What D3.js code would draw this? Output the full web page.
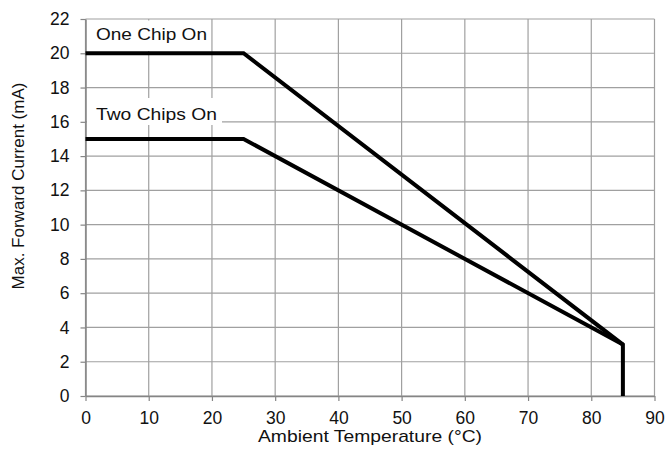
<!DOCTYPE html>
<html>
<head>
<meta charset="utf-8">
<script src="https://cdn.jsdelivr.net/npm/d3@7"></script>
<style>
	body { margin: 0; background: #fff; }
	text { font-family: "Liberation Sans", Arial, sans-serif; fill: #111; }
</style>
</head>
<body>
<div id="chart"></div>
<script>
var xTicks = [0, 10, 20, 30, 40, 50, 60, 70, 80, 90];
var yTicks = [0, 2, 4, 6, 8, 10, 12, 14, 16, 18, 20, 22];

var oneChipTemp = [0, 25, 85, 85];
var oneChipCurrent = [20, 20, 3, 0];
var twoChipTemp = [0, 25, 85];
var twoChipCurrent = [15, 15, 3];

var labels = ["One Chip On", "Two Chips On"];
var xTitle = "Ambient Temperature (\u00B0C)";
var yTitle = "Max. Forward Current (mA)";

var width = 667, height = 449;

var x = d3.scaleLinear().domain([0, 90]).range([85.5, 654.5]);
var y = d3.scaleLinear().domain([0, 22]).range([396, 19]);

var svg = d3.select("#chart").append("svg")
	.attr("width", width)
	.attr("height", height);

// grid
svg.append("g").selectAll("line").data(xTicks).enter()
	.append("line")
	.attr("x1", function(d){ return x(d); })
	.attr("x2", function(d){ return x(d); })
	.attr("y1", y(22))
	.attr("y2", y(0))
	.attr("stroke", "#a0a0a0")
	.attr("stroke-width", 1.2);
svg.append("g").selectAll("line").data(yTicks).enter()
	.append("line")
	.attr("x1", x(0))
	.attr("x2", x(90))
	.attr("y1", function(d){ return y(d); })
	.attr("y2", function(d){ return y(d); })
	.attr("stroke", "#a0a0a0")
	.attr("stroke-width", 1.2);

// axes
var xAxis = svg.append("g")
	.attr("transform", "translate(0," + y(0) + ")")
	.call(d3.axisBottom(x).tickValues(xTicks).tickSize(5).tickPadding(11).tickSizeOuter(0));
var yAxis = svg.append("g")
	.attr("transform", "translate(" + x(0) + ",0)")
	.call(d3.axisLeft(y).tickValues(yTicks).tickSize(5).tickPadding(11).tickSizeOuter(0));

[xAxis, yAxis].forEach(function(a){
	a.select(".domain").attr("stroke", "#858585").attr("stroke-width", 1.5);
	a.selectAll(".tick line").attr("stroke", "#858585").attr("stroke-width", 1.2);
	a.selectAll(".tick text")
		.style("font-family", "'Liberation Sans', Arial, sans-serif")
		.style("font-size", "17.5px")
		.attr("fill", "#111");
});

// label boxes
var boxes = [
	{x0: 87, x1: 211, y0: 20.5, y1: 51},
	{x0: 87, x1: 222, y0: 98, y1: 125}
];
svg.append("g").selectAll("rect").data(boxes).enter()
	.append("rect")
	.attr("x", function(d){ return d.x0; })
	.attr("y", function(d){ return d.y0; })
	.attr("width", function(d){ return d.x1 - d.x0; })
	.attr("height", function(d){ return d.y1 - d.y0; })
	.attr("fill", "#fff");

// lines
var line = d3.line()
	.x(function(d){ return x(d[0]); })
	.y(function(d){ return y(d[1]); });

var series = [
	d3.zip(oneChipTemp, oneChipCurrent),
	d3.zip(twoChipTemp, twoChipCurrent)
];
svg.append("g").selectAll("path").data(series).enter()
	.append("path")
	.attr("d", line)
	.attr("fill", "none")
	.attr("stroke", "#000")
	.attr("stroke-width", 4)
	.attr("stroke-linejoin", "miter");

// labels
var labelPos = [
	{x: 96, y: 40, w: 111},
	{x: 96, y: 120, w: 121}
];
svg.append("g").selectAll("text").data(labels).enter()
	.append("text")
	.attr("x", function(d, i){ return labelPos[i].x; })
	.attr("y", function(d, i){ return labelPos[i].y; })
	.attr("textLength", function(d, i){ return labelPos[i].w; })
	.attr("lengthAdjust", "spacingAndGlyphs")
	.style("font-size", "17px")
	.text(function(d){ return d; });

// axis titles
svg.append("text")
	.attr("x", 258)
	.attr("y", 442)
	.attr("textLength", 224)
	.attr("lengthAdjust", "spacingAndGlyphs")
	.style("font-size", "17px")
	.text(xTitle);

svg.append("text")
	.attr("transform", "translate(24,186) rotate(-90)")
	.attr("text-anchor", "middle")
	.style("font-size", "17px")
	.text(yTitle);
</script>
</body>
</html>
